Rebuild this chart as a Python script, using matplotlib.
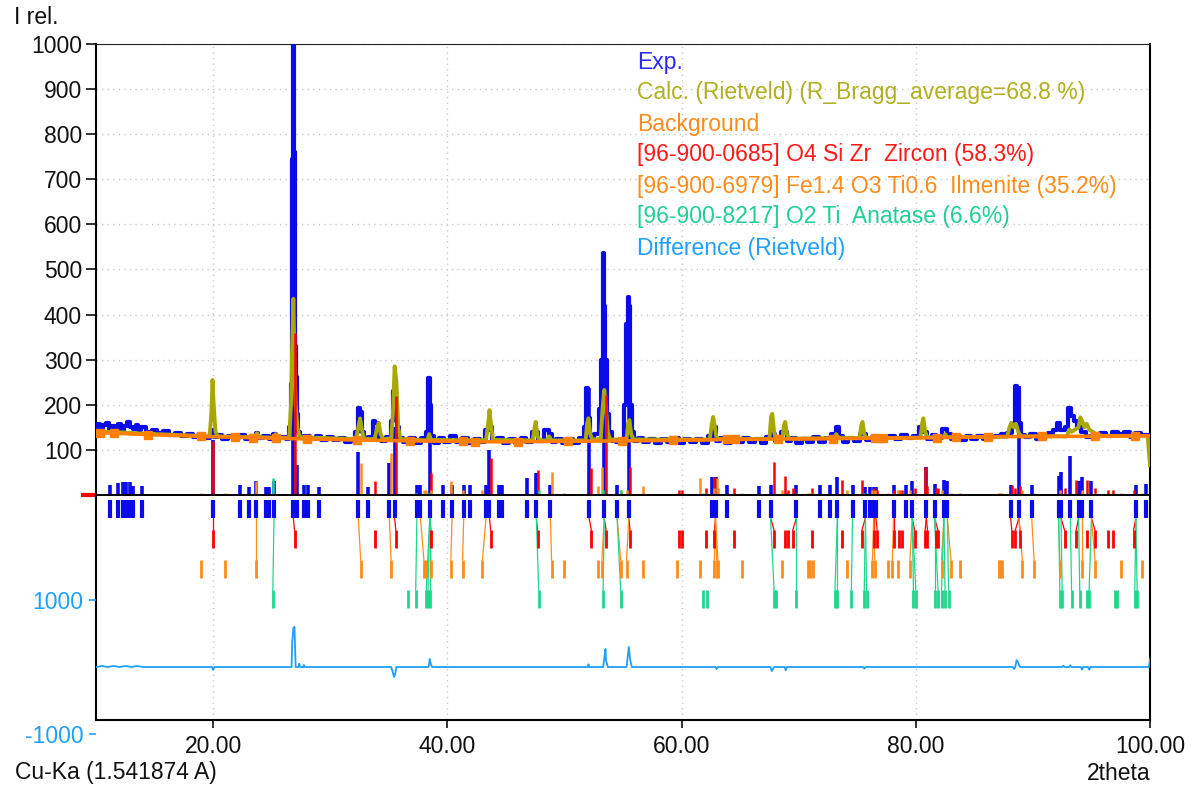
import numpy as np
import matplotlib
matplotlib.use('Agg')
import matplotlib.pyplot as plt
from matplotlib.ticker import FormatStrFormatter

plt.rcParams['font.family'] = ['Liberation Sans', 'DejaVu Sans']
plt.rcParams['axes.unicode_minus'] = False

# ---- data: (2theta, I rel.) ----
exp_pts = [(10.0,150),(10.25,158),(10.5,147),(10.75,155),(11.0,160),(11.25,146),(11.5,153),(11.75,149),
           (12.0,157),(12.25,145),(12.5,152),(12.75,162),(13.0,150),(13.25,147),(13.5,155),(13.75,143),
           (14.0,150),(14.5,140),(15.0,145),(15.5,137),(16.0,142),(16.5,133),(17.0,138),(17.5,130),
           (18.0,136),(18.5,128),(19.0,134),(19.5,127),(19.9,132),(20.0,145),(20.1,128),(20.5,133),
           (21.0,125),(21.5,131),(22.0,126),(22.5,134),(23.0,124),(23.5,130),(23.75,138),(24.0,126),
           (24.5,131),(25.0,124),(25.3,136),(25.5,127),(26.0,129),(26.4,125),(26.6,150),(26.7,245),
           (26.78,745),(26.85,1000),(26.92,760),(27.0,330),(27.1,262),(27.2,180),(27.35,140),(27.5,128),
           (28.0,131),(28.5,124),(29.0,130),(29.5,122),(30.0,128),(30.5,121),(31.0,127),(31.5,117),
           (32.0,125),(32.3,140),(32.45,193),(32.6,185),(32.75,140),(33.0,124),(33.5,128),(33.75,163),
           (33.95,160),(34.2,128),(34.5,119),(35.0,128),(35.3,165),(35.5,230),(35.65,200),(35.8,150),
           (36.0,126),(36.5,117),(37.0,127),(37.5,116),(38.0,126),(38.3,140),(38.45,260),(38.55,200),
           (38.7,130),(39.0,116),(39.5,127),(40.0,118),(40.5,130),(41.0,117),(41.5,126),(42.0,115),
           (42.5,125),(43.0,117),(43.5,145),(43.7,150),(44.0,122),(44.5,126),(45.0,115),(45.5,125),
           (46.0,116),(46.5,126),(47.0,118),(47.5,140),(48.0,119),(48.5,145),(48.8,135),(49.0,118),
           (49.5,125),(50.0,116),(50.5,124),(51.0,115),(51.5,126),(51.8,150),(51.95,237),(52.1,170),
           (52.3,126),(52.8,135),(53.05,190),(53.2,300),(53.3,536),(53.4,420),(53.55,300),(53.7,180),
           (53.9,140),(54.2,120),(54.6,117),(55.0,124),(55.2,200),(55.35,380),(55.45,440),(55.55,420),
           (55.7,200),(55.85,140),(56.1,120),(56.5,127),(57.0,117),(57.5,125),(58.0,116),(58.5,124),
           (59.0,117),(59.5,126),(60.0,115),(60.5,124),(61.0,118),(61.5,125),(62.0,116),(62.5,130),
           (62.8,150),(63.1,119),(63.5,126),(64.0,116),(64.5,124),(65.0,117),(65.5,126),(66.0,118),
           (66.5,125),(67.0,116),(67.5,128),(67.8,135),(68.2,119),(68.8,140),(69.2,120),(69.5,127),
           (70.0,116),(70.5,125),(71.0,118),(71.5,128),(72.0,117),(72.5,126),(73.0,135),(73.3,151),
           (73.6,130),(74.0,118),(74.5,127),(75.0,120),(75.5,135),(76.0,122),(76.5,129),(77.0,119),
           (77.5,128),(78.0,131),(78.5,125),(79.0,134),(79.5,126),(80.0,130),(80.5,150),(80.8,140),
           (81.2,124),(81.5,134),(82.0,126),(82.5,146),(82.8,136),(83.2,125),(83.5,131),(84.0,122),
           (84.5,130),(85.0,123),(85.5,131),(86.0,124),(86.5,129),(87.0,131),(87.5,135),(88.0,138),
           (88.4,155),(88.55,242),(88.7,235),(88.85,160),(89.1,134),(89.5,128),(90.0,136),(90.5,124),
           (91.0,133),(91.5,138),(92.0,145),(92.2,160),(92.5,145),(92.9,150),(93.15,193),(93.35,175),
           (93.6,165),(93.9,150),(94.3,140),(94.7,128),(95.0,130),(95.5,134),(96.0,138),(96.5,130),
           (97.0,140),(97.5,136),(98.0,139),(98.5,129),(99.0,137),(99.5,134),(100.0,133)]

calc_pts = [(10.0,141),(12.0,139),(14.0,136),(17.0,133),(19.7,130),(19.85,180),(19.95,255),(20.05,200),
            (20.2,140),(20.4,130),(23.5,128),(23.75,137),(24.0,128),(25.2,127),(25.35,135),(25.5,127),
            (26.5,127),(26.65,200),(26.75,330),(26.85,435),(26.95,300),(27.05,200),(27.2,150),(27.4,128),
            (32.2,124),(32.4,150),(32.55,170),(32.7,145),(32.9,124),(33.8,124),(34.0,150),(34.15,160),
            (34.3,135),(34.5,124),(35.2,125),(35.35,180),(35.5,285),(35.65,250),(35.8,150),(36.0,124),
            (38.3,121),(38.45,135),(38.6,122),(43.3,121),(43.5,160),(43.6,188),(43.75,150),(43.9,122),
            (47.3,121),(47.45,150),(47.55,162),(47.7,130),(47.9,121),(48.5,121),(48.7,130),(48.9,121),
            (51.8,121),(51.95,160),(52.05,170),(52.2,135),(52.4,122),(53.1,125),(53.25,190),(53.4,233),
            (53.55,190),(53.7,140),(53.9,123),(55.3,123),(55.45,160),(55.55,166),(55.7,135),(55.9,123),
            (62.4,123),(62.6,160),(62.7,173),(62.85,150),(63.0,124),(67.5,124),(67.65,175),(67.75,180),
            (67.9,140),(68.05,125),(68.6,125),(68.75,155),(68.85,162),(69.0,135),(69.2,125),(73.0,126),
            (73.2,135),(73.4,127),(75.2,126),(75.35,155),(75.45,162),(75.6,135),(75.8,126),(80.4,127),
            (80.55,160),(80.65,170),(80.8,140),(81.0,128),(82.4,128),(82.5,135),(82.7,128),(87.8,129),
            (88.0,150),(88.15,160),(88.35,150),(88.55,158),(88.75,140),(89.0,130),(92.9,130),(93.1,145),
            (93.3,140),(93.9,150),(94.05,172),(94.2,165),(94.4,150),(94.6,158),(94.8,145),(95.1,140),
            (95.5,133),(96.0,131),(99.8,131),(100.0,66)]

bg_pts = [(10.0,138),(10.3,138),(11.5,137),(14.4,134),(19.0,130),(21.9,128),(23.4,127),(25.4,126),
          (28.0,124),(32.3,122),(36.8,120),(41.3,119),(42.4,118),(46.0,118),(50.3,119),(54.9,120),
          (59.3,121),(63.9,123),(64.6,123),(68.2,124),(72.9,125),(76.5,126),(77.2,126),(81.8,127),
          (83.4,128),(86.2,129),(90.8,130),(95.3,130),(98.7,131),(100.0,131)]

diff_pts = [(10.0,0),(10.5,15),(11.0,0),(11.5,15),(12.0,0),(12.5,15),(13.0,0),(13.5,15),(14.0,0),
            (19.9,0),(20.0,-45),(20.1,0),(26.7,0),(26.75,350),(26.85,580),(26.95,600),(27.05,0),
            (27.3,0),(27.35,50),(27.45,0),(27.7,0),(27.75,30),(27.8,0),(35.2,0),(35.3,-50),(35.45,-150),
            (35.55,-100),(35.65,0),(38.4,0),(38.5,120),(38.6,40),(38.7,0),(52.0,0),(52.05,40),(52.1,0),
            (53.3,0),(53.4,130),(53.5,270),(53.55,100),(53.7,0),(55.3,0),(55.4,150),(55.5,300),
            (55.6,120),(55.75,0),(62.9,0),(63.0,-30),(63.1,0),(67.6,0),(67.7,-60),(67.8,-30),(67.9,0),
            (68.8,0),(68.9,-50),(69.0,0),(75.5,0),(75.6,-25),(75.7,0),(88.3,0),(88.4,-30),(88.5,0),
            (88.6,100),(88.7,80),(88.9,0),(92.5,0),(92.6,20),(92.7,0),(93.1,0),(93.2,25),(93.3,0),
            (94.1,0),(94.2,-40),(94.3,0),(94.7,0),(94.8,-40),(94.9,0),(99.9,0),(100.0,120)]

# peak list (2theta, stick height)
peak_list = [(11.2,22),(11.9,27),(12.3,29),(12.6,29),(12.9,29),(13.15,20),(13.9,20),(20.0,122),
             (22.3,22),(23.1,18),(23.7,30),(24.5,18),(24.75,18),(25.2,30),(26.85,870),(27.2,66),
             (27.75,22),(28.1,22),(29.0,18),(32.4,96),(33.2,18),(35.05,70),(35.5,150),(37.4,22),
             (37.7,22),(38.5,260),(39.6,22),(40.4,22),(41.4,22),(41.9,22),(43.3,22),(43.6,100),
             (44.4,22),(44.7,22),(46.8,37),(47.6,49),(48.8,22),(52.1,237),(53.4,536),(54.5,22),
             (55.5,440),(62.6,40),(62.9,40),(63.9,22),(66.6,20),(67.6,22),(69.8,22),(71.8,22),
             (72.7,22),(73.3,40),(74.6,22),(75.7,18),(76.1,18),(76.4,18),(76.6,18),(78.1,22),
             (79.2,22),(79.7,30),(80.9,62),(81.6,25),(82.4,33),(82.7,30),(88.1,22),(88.8,242),
             (89.9,22),(92.2,42),(92.4,50),(93.2,86),(93.9,30),(94.2,40),(95.0,30),(98.8,22),(99.7,25)]

zircon = [(20.0,120),(26.95,360),(33.8,30),(35.6,220),(38.6,48),(43.7,82),(47.7,56),(52.3,60),
          (53.55,222),(55.6,62),(59.8,10),(60.0,10),(62.1,15),(62.8,40),(64.5,15),(67.9,73),(68.8,42),
          (69.1,10),(69.5,15),(71.1,15),(73.7,33),(75.4,33),(76.4,15),(76.7,10),(78.1,10),(78.6,10),
          (78.8,10),(79.9,15),(80.8,62),(81.0,20),(81.7,15),(81.9,15),(88.2,22),(88.5,15),(88.9,20),
          (92.7,15),(93.7,33),(94.6,33),(95.3,15),(96.4,10),(96.8,10),(98.6,10)]

ilmenite = [(19.0,5),(21.0,5),(23.7,30),(32.6,70),(35.2,93),(38.0,10),(38.15,10),(38.6,10),(40.3,30),
            (41.3,10),(43.0,10),(48.9,52),(50.0,5),(52.9,20),(53.2,62),(54.8,10),(55.3,10),(56.7,20),
            (59.6,5),(61.6,38),(62.8,15),(63.0,38),(63.1,15),(65.2,5),(68.6,10),(70.8,5),(71.0,5),
            (71.2,5),(74.1,10),(76.3,10),(76.5,10),(77.6,5),(78.0,5),(78.5,10),(79.5,10),(82.2,10),
            (83.0,5),(83.8,5),(87.1,5),(87.2,5),(87.4,5),(89.1,10),(90.1,5),(92.3,10),(94.2,10),
            (95.3,5),(97.5,5),(99.3,5)]

anatase = [(25.1,37),(36.6,3),(37.3,5),(38.2,5),(38.35,5),(38.5,5),(47.8,10),(53.3,10),(54.8,10),
           (61.8,5),(62.2,5),(67.9,3),(68.1,3),(69.8,5),(73.1,3),(73.3,3),(74.5,3),(75.6,5),(75.8,5),
           (79.8,3),(80.0,3),(81.6,3),(81.9,3),(82.2,3),(82.5,3),(82.8,3),(92.3,3),(92.5,3),(93.3,3),
           (94.0,3),(94.6,3),(94.8,3),(97.0,3),(97.2,3),(98.7,3),(98.9,3)]

legend_labels = ['Exp.', 'Calc. (Rietveld) (R_Bragg_average=68.8 %)', 'Background',
                 '[96-900-0685] O4 Si Zr  Zircon (58.3%)',
                 '[96-900-6979] Fe1.4 O3 Ti0.6  Ilmenite (35.2%)',
                 '[96-900-8217] O2 Ti  Anatase (6.6%)', 'Difference (Rietveld)']

c_exp, c_calc, c_bg = '#0a0aeb', '#a8a800', '#ff8000'
c_zr, c_il, c_an, c_diff = '#ff0000', '#ff8c1a', '#1ed68c', '#1ea0ff'
legend_colors = ['#2a2aff', '#b0b020', '#ff8c1a', '#ff1a1a', '#ff8c1a', '#20d090', '#1ea0ff']
FS = 16.5

# ---- figure ----
W, H = 1194, 788
fig = plt.figure(figsize=(W / 100, H / 100), dpi=100)
left, right, top = 96 / W, 1150 / W, 1 - 44 / H
ax = fig.add_axes([left, 1 - 720 / H, right - left, top - (1 - 720 / H)])
ax2 = fig.add_axes([left, 1 - 734 / H, right - left, top - (1 - 734 / H)])

ax.set_xlim(10, 100)
ax.set_ylim(-499, 1000)

tt, yy = np.array(exp_pts).T
ax.plot(tt, yy, color=c_exp, lw=3.0, drawstyle='steps-mid', zorder=3)
tt, yy = np.array(calc_pts).T
ax.plot(tt, yy, color=c_calc, lw=2.8, zorder=4)
tt, yy = np.array(bg_pts).T
ax.plot(tt, yy, color=c_bg, lw=2.6, zorder=5)
ax.plot(tt[1:-1], yy[1:-1], 's', color=c_bg, ms=5.5, zorder=5)

ax.axhline(0, color='black', lw=1.4, zorder=6)

# peak list sticks and row
pl_tt, pl_h = np.array(peak_list).T
ax.vlines(pl_tt, 0, pl_h, color=c_exp, lw=2.6, zorder=3.5)

rows = [(c_zr, zircon, -78, -118), (c_il, ilmenite, -144, -184), (c_an, anatase, -211, -251)]
for col, data, r_top, r_bot in rows:
    p_tt, p_h = np.array(data).T
    ax.vlines(p_tt, 0, p_h, color=col, lw=1.8, zorder=4.5)
    ax.vlines(p_tt, r_bot, r_top, color=col, lw=2.0, zorder=4.5)
    for p in p_tt:
        near = pl_tt[np.argmin(np.abs(pl_tt - p))]
        if abs(near - p) < 0.35:
            ax.plot([near, p], [-51, r_top], color=col, lw=0.9, zorder=4.4)

ax.vlines(pl_tt, -51, -11, color=c_exp, lw=3.0, zorder=7)

# axes styling
ax.set_yticks(range(100, 1001, 100))
ax.set_xticks([20, 40, 60, 80, 100])
ax.xaxis.set_major_formatter(FormatStrFormatter('%.2f'))
ax.tick_params(axis='both', labelsize=FS, colors='#111111', width=1.2)
ax.tick_params(axis='y', length=7, pad=3)
ax.tick_params(axis='x', length=6, pad=5)
ax.set_yticks([0], minor=True)
ax.tick_params(axis='y', which='minor', color='red', length=11, width=3)
ax.grid(True, color='#c8c8c8', linestyle=(0, (1, 3)), linewidth=1)
ax.spines['top'].set_linestyle((0, (1, 1)))
ax.spines['top'].set_color('#222222')
for s in ['left', 'right', 'bottom']:
    ax.spines[s].set_linewidth(1.5)

# difference curve on its own scale
ax2.patch.set_alpha(0)
ax2.set_xlim(10, 100)
ax2.set_ylim(-1000, 9298)
tt, yy = np.array(diff_pts).T
ax2.plot(tt, yy, color=c_diff, lw=1.3)
ax2.set_xticks([])
ax2.set_yticks([-1000, 1000])
ax2.tick_params(axis='y', colors=c_diff, labelsize=FS, length=5, pad=4, width=1.2)
for s in ax2.spines.values():
    s.set_visible(False)

# legend as coloured text lines
for k, (lab, col) in enumerate(zip(legend_labels, legend_colors)):
    fig.text(637 / W, 1 - (62 + 31 * k) / H, lab, color=col, fontsize=FS, va='center', ha='left')

fig.text(14 / W, 1 - 18 / H, 'I rel.', fontsize=FS, va='center', ha='left', color='#111111')
fig.text(15 / W, 1 - 773 / H, 'Cu-Ka (1.541874 A)', fontsize=FS, va='center', ha='left', color='#111111')
fig.text(1150 / W, 1 - 773 / H, '2theta', fontsize=FS, va='center', ha='right', color='#111111')

fig.savefig('out.png', dpi=100)
